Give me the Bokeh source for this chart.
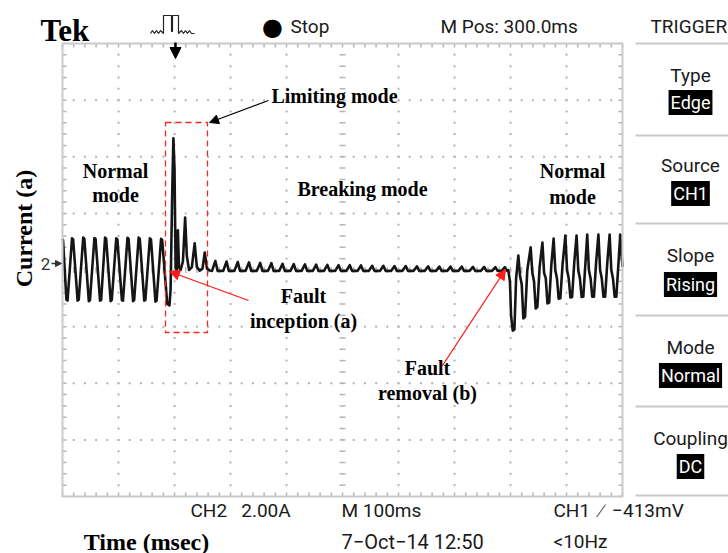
import math
from bokeh.plotting import figure
from bokeh.models import Label, Arrow, NormalHead, BoxAnnotation
from bokeh.embed import file_html
from bokeh.resources import INLINE

# ---------------- data (time in ms, current in A; 100 ms/div, 2 A/div) ----------------
normal_pre_t = [0, 1, 7, 9, 17, 19, 27, 29, 37, 39, 47, 49, 57, 59, 67, 69, 76, 78, 86, 88,
                96, 98, 106, 108, 116, 118, 126, 128, 136, 138, 146, 148, 156, 158, 166, 168,
                176, 178, 187, 191]
normal_pre_a = [1.10, 1.05, -1.05, -1.08, 1.12, 1.08, -1.08, -1.05, 1.15, 1.10, -1.10, -1.07,
                1.13, 1.10, -1.08, -1.06, 1.15, 1.10, -1.10, -1.06, 1.12, 1.08, -1.06, -1.08,
                1.14, 1.10, -1.10, -1.06, 1.15, 1.10, -1.08, -1.06, 1.12, 1.08, -1.12, -1.08,
                1.10, 1.06, -1.20, -1.25]

fault_t = [193, 196, 198, 200, 202, 204, 206, 208, 211, 215, 219, 222, 226, 231, 236, 240,
           245, 250, 254, 258, 263]
fault_a = [-0.70, 2.80, 4.65, 3.60, 0.10, 0.00, 1.40, 0.10, 0.00, 0.30, 1.85, 0.50, 0.00,
           0.10, 0.94, 0.10, -0.02, 0.05, 0.62, 0.05, -0.02]

ripple_peak_t = [273, 293, 313, 333, 353, 373, 393, 413, 433, 453, 473, 493, 513, 533, 553,
                 573, 593, 613, 633, 653, 673, 693, 713, 733, 753, 773, 790]
ripple_peak_a = [0.32, 0.30, 0.28, 0.27, 0.25, 0.24, 0.22, 0.21, 0.20, 0.19, 0.18, 0.17, 0.17,
                 0.16, 0.15, 0.15, 0.14, 0.14, 0.13, 0.13, 0.12, 0.12, 0.12, 0.11, 0.11, 0.10,
                 0.10]
ripple_base_a = -0.03

normal_post_t = [796, 799, 801, 804, 807, 810, 814, 817, 820, 823, 826, 830, 836, 839, 842, 845,
                 848, 852, 857, 860, 863, 866, 869, 873, 877, 880, 883, 886, 889, 893, 898, 901,
                 904, 907, 910, 914, 918, 921, 924, 927, 930, 934, 937, 940, 943, 946, 949, 953,
                 957, 960, 963, 966, 969, 973, 977, 980, 983, 986, 989, 993, 996, 1000]
normal_post_a = [0.00, -0.40, -1.60, -2.14, -2.10, -0.30, 0.51, -0.20, -0.50, -1.71, -1.65, 0.00,
                 0.80, -0.10, -0.40, -1.36, -1.30, 0.10, 0.97, -0.10, -0.30, -1.18, -1.15, 0.20,
                 1.11, 0.00, -0.30, -1.01, -1.00, 0.20, 1.22, 0.00, -0.30, -0.97, -0.95, 0.30,
                 1.22, 0.00, -0.30, -0.95, -0.94, 0.30, 1.25, 0.00, -0.30, -0.94, -0.94, 0.30,
                 1.25, 0.00, -0.30, -0.94, -0.94, 0.30, 1.25, 0.00, -0.30, -0.94, -0.94, 0.30,
                 1.25, 0.10]

# scope screen: 10 div x 100 ms, 8 div x 2 A, 5 minor subdivisions
T_MIN, T_MAX, T_DIV = 0, 1000, 100
A_MIN, A_MAX, A_DIV = -8, 8, 2
N_MINOR = 5

# ---------------- build trace ----------------
breaking_t, breaking_a = [], []
for tp, ap in zip(ripple_peak_t, ripple_peak_a):
    breaking_t += [tp - 6, tp, tp + 4]
    breaking_a += [ripple_base_a, ap, ripple_base_a]

trace_t = normal_pre_t + fault_t + breaking_t + normal_post_t
trace_a = normal_pre_a + fault_a + breaking_a + normal_post_a

# page pixel -> data helpers (screen: x 62..622, y 43..496)
PX_T = 0.56
PX_A = 453 / 16.0

def DX(X):
    return (X - 62) / PX_T

def DY(Y):
    return (269.5 - Y) / PX_A

W, H = 728, 553
p = figure(width=W, height=H, x_range=(DX(0), DX(W)), y_range=(DY(H), DY(0)),
           output_backend="svg", toolbar_location=None,
           x_axis_type=None, y_axis_type=None, min_border=0)
p.outline_line_color = None
p.grid.visible = False
p.background_fill_color = "white"
p.border_fill_color = "white"

GRID_C = "#b4b4b4"
minor_t = [T_MIN + i * T_DIV / N_MINOR for i in range(int((T_MAX - T_MIN) / T_DIV * N_MINOR) + 1)]
minor_a = [A_MIN + i * A_DIV / N_MINOR for i in range(int((A_MAX - A_MIN) / A_DIV * N_MINOR) + 1)]
major_t = [T_MIN + i * T_DIV for i in range(1, int((T_MAX - T_MIN) / T_DIV))]
major_a = [A_MIN + i * A_DIV for i in range(1, int((A_MAX - A_MIN) / A_DIV))]
T_MID = (T_MIN + T_MAX) / 2
A_MID = (A_MIN + A_MAX) / 2

# grid dots at every minor position along each division line
dx_, dy_ = [], []
for t in major_t:
    if t == T_MID:
        continue
    for a in minor_a[1:-1]:
        dx_.append(t); dy_.append(a)
for a in major_a:
    if a == A_MID:
        continue
    for t in minor_t[1:-1]:
        dx_.append(t); dy_.append(a)
p.scatter(dx_, dy_, marker="square", size=2, line_color=None, fill_color=GRID_C)

# center cross with small ticks
p.scatter([T_MID] * (len(minor_a) - 2), minor_a[1:-1], marker="dash", size=6,
          line_color=GRID_C, line_width=1.5)
p.scatter(minor_t[1:-1], [A_MID] * (len(minor_t) - 2), marker="dash", size=6, angle=math.pi / 2,
          line_color=GRID_C, line_width=1.5)

# edge ticks (inward)
tl = 4
p.segment(minor_t, [A_MAX] * len(minor_t), minor_t, [A_MAX - tl / PX_A] * len(minor_t),
          line_color=GRID_C, line_width=1.5)
p.segment(minor_t, [A_MIN] * len(minor_t), minor_t, [A_MIN + tl / PX_A] * len(minor_t),
          line_color=GRID_C, line_width=1.5)
p.segment([T_MIN] * len(minor_a), minor_a, [T_MIN + tl / PX_T] * len(minor_a), minor_a,
          line_color=GRID_C, line_width=1.5)
p.segment([T_MAX] * len(minor_a), minor_a, [T_MAX - tl / PX_T] * len(minor_a), minor_a,
          line_color=GRID_C, line_width=1.5)

# screen border
p.add_layout(BoxAnnotation(left=T_MIN, right=T_MAX, bottom=A_MIN, top=A_MAX,
                           fill_alpha=0, line_color="#cacaca", line_alpha=1.0, line_width=2))

# waveform
p.line(trace_t, trace_a, line_color="#151515", line_width=2.6, line_join="round")

# red dashed box (limiting mode)
p.add_layout(BoxAnnotation(left=DX(165), right=DX(207), top=DY(122), bottom=DY(332),
                           fill_alpha=0, line_color="#f02a22", line_alpha=1.0,
                           line_dash="6 4", line_width=1.3))

# arrows
p.add_layout(Arrow(x_start=DX(268), y_start=DY(100), x_end=DX(209), y_end=DY(122),
                   line_color="black", line_width=1.2,
                   end=NormalHead(size=9, fill_color="black", line_color="black")))
p.add_layout(Arrow(x_start=DX(248), y_start=DY(300), x_end=DX(169), y_end=DY(271),
                   line_color="#ff1a1a", line_width=1.3,
                   end=NormalHead(size=10, fill_color="#ff1a1a", line_color="#ff1a1a")))
p.add_layout(Arrow(x_start=DX(442), y_start=DY(365), x_end=DX(505), y_end=DY(269),
                   line_color="#ff1a1a", line_width=1.3,
                   end=NormalHead(size=10, fill_color="#ff1a1a", line_color="#ff1a1a")))

SERIF = "Liberation Serif"
SANS = "Roboto"

def lab(text, X, Y, size, font=SERIF, bold=True, align="center", color="black",
        angle=0.0, bg=None, pad=0):
    kw = {}
    if bg is not None:
        kw["background_fill_color"] = bg
        kw["padding"] = pad
    p.add_layout(Label(x=DX(X), y=DY(Y), text=text, text_font=font,
                       text_font_size=f"{size}px",
                       text_font_style="bold" if bold else "normal",
                       text_align=align, text_baseline="middle", text_color=color,
                       angle=angle, **kw))

NB = "\u00a0"

# chart annotations
lab("Limiting mode", 334, 95, 20)
lab("Normal", 115, 170, 20)
lab("mode", 115, 194, 20)
lab("Breaking mode", 362, 188, 20)
lab("Normal", 572, 170, 20)
lab("mode", 572, 196, 20)
lab("Fault", 303, 295, 20)
lab("inception (a)", 303, 320, 20)
lab("Fault", 427, 367, 20)
lab("removal (b)", 427, 392, 20)
lab("Current (a)", 23, 228, 24, angle=math.pi / 2)
lab("Time (msec)", 146, 541, 24)

# scope header
lab("Tek", 40, 30, 31, align="left")
lab("\u25CF", 272, 26, 24, font="DejaVu Sans", bold=False)
lab("Stop", 290, 26, 19, font=SANS, bold=False, align="left", color="#1a1a1a")
lab("M Pos: 300.0ms", 440, 26, 19, font=SANS, bold=False, align="left", color="#1a1a1a")
lab("TRIGGER", 650, 26, 19, font=SANS, bold=False, align="left", color="#1a1a1a")

# trigger pulse icon
pulse_x = [150, 152, 154, 156, 158, 160, 163, 163, 171, 171, 172, 172, 178, 178, 181, 183,
           185, 187, 189, 191, 194]
pulse_y = [33, 30, 33, 30, 33, 30, 33, 15, 15, 31, 31, 15, 15, 33, 30, 33, 30, 33, 30, 33, 33]
p.line([DX(v) for v in pulse_x], [DY(v) for v in pulse_y], line_color="#222", line_width=1.2)
p.add_layout(Arrow(x_start=DX(175), y_start=DY(42), x_end=DX(175), y_end=DY(58),
                   line_color="black", line_width=2.5,
                   end=NormalHead(size=11, fill_color="black", line_color="black")))

# channel marker
lab("2", 45, 263, 17, font=SANS, bold=False, color="#333")
p.add_layout(Arrow(x_start=DX(51), y_start=DY(263), x_end=DX(61), y_end=DY(263),
                   line_color="#333", line_width=1.5,
                   end=NormalHead(size=6, fill_color="#333", line_color="#333")))

# scope footer
lab("CH2" + NB * 3 + "2.00A", 190, 510, 19, font=SANS, bold=False, align="left", color="#1a1a1a")
lab("M 100ms", 341, 510, 19, font=SANS, bold=False, align="left", color="#1a1a1a")
lab("CH1" + NB * 2 + "\u2215" + NB * 2 + "\u2212413mV", 553, 510, 19, font=SANS, bold=False,
    align="left", color="#1a1a1a")
lab("7\u2212Oct\u221214 12:50", 341, 541, 20, font=SANS, bold=False, align="left", color="#1a1a1a")
lab("<10Hz", 553, 541, 19, font=SANS, bold=False, align="left", color="#1a1a1a")

# trigger side panel
sep_y = [43, 135, 223, 315, 406, 495]
p.segment([DX(635)] * len(sep_y), [DY(v) for v in sep_y], [DX(W)] * len(sep_y),
          [DY(v) for v in sep_y], line_color="#c8c8c8", line_width=2)

menu_titles = ["Type", "Source", "Slope", "Mode", "Coupling"]
menu_values = ["Edge", "CH1", "Rising", "Normal", "DC"]
title_y = [75, 165, 255, 347, 438]
value_y = [102, 193, 284, 375, 466]
for t_, v_, ty, vy in zip(menu_titles, menu_values, title_y, value_y):
    lab(t_, 690, ty, 19, font=SANS, bold=False, color="#1a1a1a")
    lab(v_, 690, vy, 18, font=SANS, bold=False, color="white", bg="black", pad=2)

open("out.html", "w").write(file_html(p, INLINE))
